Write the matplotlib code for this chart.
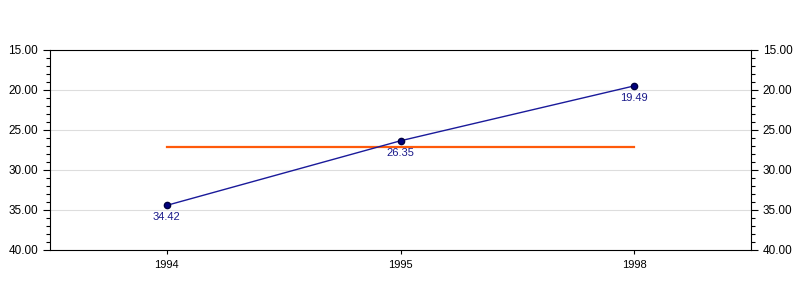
import matplotlib
matplotlib.use("Agg")
import matplotlib.pyplot as plt
from matplotlib.ticker import MultipleLocator, FormatStrFormatter

years = ["1994", "1995", "1998"]
values = [34.42, 26.35, 19.49]
average = 27.1

plt.rcParams['font.family'] = ['Liberation Sans', 'DejaVu Sans']

fig = plt.figure(figsize=(8, 3), dpi=100)
ax = fig.add_axes([0.0625, 0.1667, 0.87625, 0.6667])
x = list(range(len(years)))

ax.plot(x, values, color='#1a1a9a', linewidth=1, marker='o', markersize=4.5,
        markerfacecolor='#000080', markeredgecolor='#000040', zorder=3)
ax.plot([x[0], x[-1]], [average, average], color='#ff5a0a', linewidth=1.6, zorder=2)

for xi, v in zip(x, values):
    ax.annotate(f"{v:.2f}", (xi, v), xytext=(0, -5), textcoords='offset points',
                ha='center', va='top', fontsize=8, color='#1a1a8a')

ax.set_xlim(-0.5, len(years) - 0.5)
ax.set_ylim(40, 15)
ax.set_xticks(x)
ax.set_xticklabels(years, fontsize=8)
ax.yaxis.set_major_locator(MultipleLocator(5))
ax.yaxis.set_minor_locator(MultipleLocator(1))
ax.yaxis.set_major_formatter(FormatStrFormatter('%.2f'))
ax.tick_params(axis='y', which='both', left=True, right=True,
               labelleft=True, labelright=True, labelsize=8.5)
ax.tick_params(axis='y', which='major', length=5, width=0.8)
ax.tick_params(axis='y', which='minor', length=3, width=0.8)
ax.tick_params(axis='x', length=3, width=0.8, pad=4)
ax.grid(axis='y', color='#dddddd', linewidth=0.8, zorder=0)
ax.set_axisbelow(True)
for s in ax.spines.values():
    s.set_linewidth(0.8)

fig.savefig("out.png", dpi=100)
